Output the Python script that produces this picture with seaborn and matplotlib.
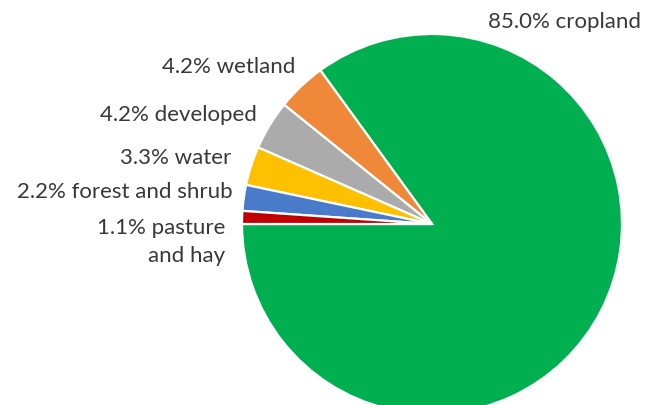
import matplotlib
matplotlib.use("Agg")
import matplotlib.pyplot as plt
import seaborn as sns

# land use shares, in drawing order (counterclockwise from 9 o'clock)
categories = ["cropland", "wetland", "developed", "water", "forest and shrub", "pasture\nand hay"]
shares = [85.0, 4.2, 4.2, 3.3, 2.2, 1.1]
colors = ["#00B050", "#F0883A", "#ABABAB", "#FFC000", "#4A7BCB", "#C00000"]

# label anchor positions in pixels (right edge x, center y) from top-left
label_pos = [(641, 22), (295, 67), (257, 115), (231, 158), (233, 192), (225, 242)]

sns.set_style("white")
plt.rcParams["font.family"] = ["Lato", "DejaVu Sans"]

W, H, dpi = 660, 406, 100
fig = plt.figure(figsize=(W / dpi, H / dpi), dpi=dpi)
ax = fig.add_axes([0, 0, 1, 1])

cx, cy, r = 432, 225, 190
ax.pie(shares, colors=colors, startangle=180, counterclock=True,
       wedgeprops=dict(edgecolor="white", linewidth=1.6))
ax.set_aspect("auto")
ax.set_xlim(-cx / r, (W - cx) / r)
ax.set_ylim(-(H - cy) / r, cy / r)
ax.axis("off")

for cat, val, (px, py) in zip(categories, shares, label_pos):
    ax.text((px - cx) / r, (cy - py) / r, f"{val:.1f}% {cat}",
            ha="right", va="center", fontsize=16, color="#383838",
            linespacing=1.5, multialignment="right")

fig.savefig("out.png", dpi=dpi)
